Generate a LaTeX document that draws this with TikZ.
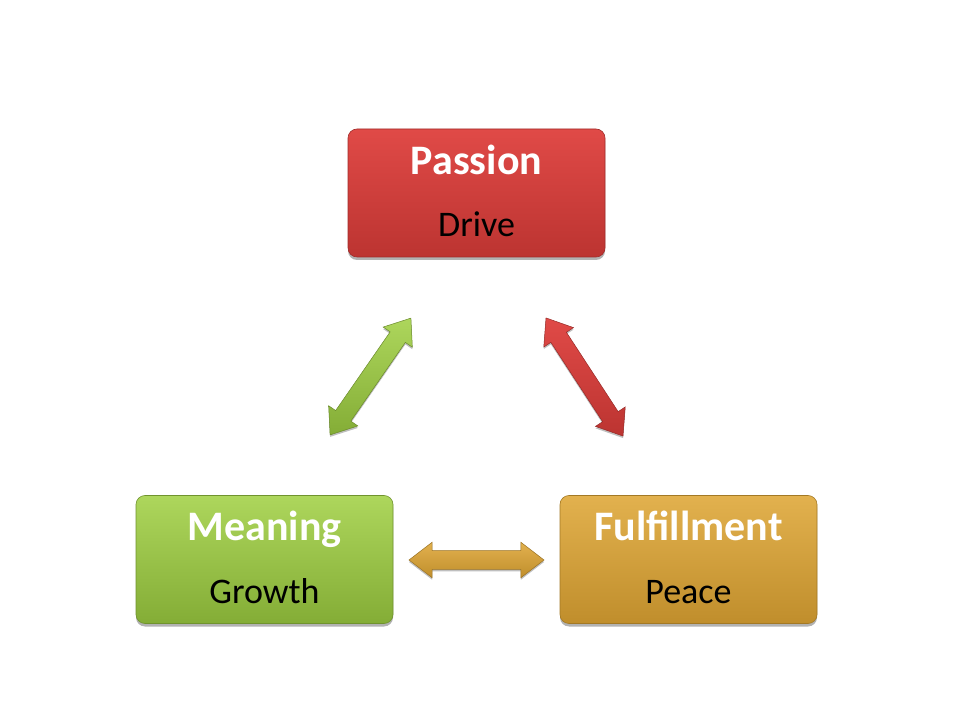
\documentclass[tikz,border=0pt]{standalone}
\usepackage{fontspec}
\setmainfont{Carlito}
\usetikzlibrary{shapes.arrows,shadows,calc}
\definecolor{redT}{HTML}{E04A47}
\definecolor{redB}{HTML}{BC3431}
\definecolor{grnT}{HTML}{ADD65C}
\definecolor{grnB}{HTML}{84AD36}
\definecolor{gldT}{HTML}{E2B14E}
\definecolor{gldB}{HTML}{C08E2C}
\tikzset{
  box/.style={rounded corners=9pt, minimum width=257pt, minimum height=128pt, inner sep=0pt,
    draw=#1B!85!black, line width=0.6pt, top color=#1T, bottom color=#1B,
    drop shadow={shadow xshift=0pt, shadow yshift=-3pt, opacity=0.3, fill=black}},
  ttl/.style={font=\fontsize{42}{48}\selectfont\bfseries, text=white, anchor=base},
  sub/.style={font=\fontsize{36}{42}\selectfont, text=black, anchor=base},
  dbl/.style={double arrow, double arrow head extend=8.5pt, double arrow tip angle=75,
    inner xsep=0pt, inner ysep=9pt, draw=#1B!80!black, line width=0.5pt,
    top color=#1T, bottom color=#1B,
    drop shadow={shadow xshift=0pt, shadow yshift=-2pt, opacity=0.25, fill=black}},
}
\begin{document}
\begin{tikzpicture}[x=1pt,y=1pt]
\useasboundingbox[fill=white] (0,0) rectangle (960,720);
\node[box=red] (passion) at (476.5,527) {};
\node[box=grn] (meaning) at (264.5,160.5) {};
\node[box=gld] (fulfil) at (688.5,160.5) {};
\node[ttl] (passionT) at ($(passion.center)+(0,18)$) {Passion};
\node[sub] (passionS) at ($(passion.center)+(0,-44)$) {Drive};
\node[ttl] (meaningT) at ($(meaning.center)+(0,18.5)$) {Meaning};
\node[sub] (meaningS) at ($(meaning.center)+(0,-43.5)$) {Growth};
\node[ttl] (fulfilT) at ($(fulfil.center)+(0,18.5)$) {Fulfillment};
\node[sub] (fulfilS) at ($(fulfil.center)+(0,-43.5)$) {Peace};
\node[dbl=grn, minimum height=142pt, rotate=55.3] (arrGM) at (370.5,343.5) {};
\node[dbl=red, minimum height=141pt, rotate=-56.9] (arrRF) at (584.5,343) {};
\node[dbl=gld, minimum height=135pt] (arrMF) at (476.5,160) {};
\end{tikzpicture}
\end{document}
